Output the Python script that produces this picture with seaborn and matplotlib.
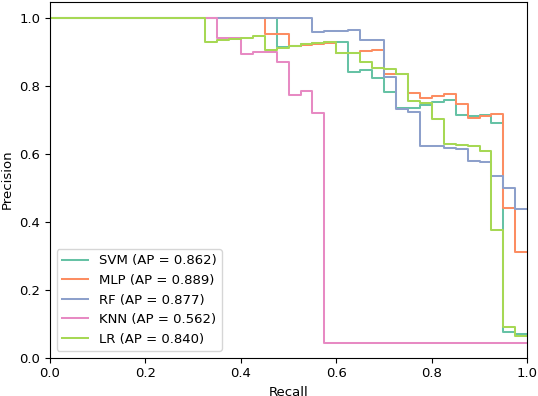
import pandas as pd
import seaborn as sns
import matplotlib
matplotlib.use("Agg")
import matplotlib.pyplot as plt

# recall grid (left edge of each step) and precision
svm_recall = [0.0, 0.475, 0.5, 0.525, 0.55, 0.575, 0.6, 0.625, 0.65, 0.675, 0.7, 0.725,
              0.75, 0.775, 0.8, 0.825, 0.85, 0.875, 0.9, 0.925, 0.95, 0.975, 1.0]
svm_precision = [1.0, 0.915, 0.918, 0.922, 0.925, 0.928, 0.928, 0.842, 0.846, 0.822, 0.783, 0.736,
                 0.736, 0.743, 0.753, 0.758, 0.715, 0.712, 0.714, 0.692, 0.075, 0.068, 0.068]

mlp_recall = [0.0, 0.45, 0.5, 0.525, 0.55, 0.575, 0.6, 0.625, 0.65, 0.675, 0.7, 0.725,
              0.75, 0.775, 0.8, 0.825, 0.85, 0.875, 0.9, 0.925, 0.95, 0.975, 1.0]
mlp_precision = [1.0, 0.952, 0.917, 0.920, 0.922, 0.925, 0.897, 0.898, 0.903, 0.906, 0.835, 0.835,
                 0.779, 0.765, 0.770, 0.775, 0.746, 0.705, 0.712, 0.717, 0.439, 0.311, 0.311]

rf_recall = [0.0, 0.55, 0.575, 0.6, 0.625, 0.65, 0.675, 0.7, 0.725, 0.75, 0.775, 0.8,
             0.825, 0.85, 0.875, 0.9, 0.925, 0.95, 0.975, 1.0]
rf_precision = [1.0, 0.958, 0.960, 0.962, 0.965, 0.935, 0.935, 0.827, 0.733, 0.724, 0.622, 0.622,
                0.617, 0.613, 0.579, 0.576, 0.535, 0.498, 0.436, 0.436]

knn_recall = [0.0, 0.35, 0.375, 0.4, 0.425, 0.45, 0.475, 0.5, 0.525, 0.55, 0.575, 1.0]
knn_precision = [1.0, 0.940, 0.940, 0.894, 0.901, 0.901, 0.871, 0.773, 0.785, 0.719, 0.043, 0.043]

lr_recall = [0.0, 0.325, 0.35, 0.375, 0.4, 0.425, 0.45, 0.475, 0.5, 0.525, 0.55, 0.575,
             0.6, 0.625, 0.65, 0.675, 0.7, 0.725, 0.75, 0.775, 0.8, 0.825, 0.85, 0.875,
             0.9, 0.925, 0.95, 0.975, 1.0]
lr_precision = [1.0, 0.930, 0.935, 0.938, 0.941, 0.947, 0.906, 0.911, 0.917, 0.922, 0.925, 0.928,
                0.896, 0.898, 0.871, 0.853, 0.851, 0.835, 0.756, 0.748, 0.702, 0.630, 0.625, 0.622,
                0.609, 0.375, 0.089, 0.065, 0.065]

labels = ["SVM (AP = 0.862)", "MLP (AP = 0.889)", "RF (AP = 0.877)",
          "KNN (AP = 0.562)", "LR (AP = 0.840)"]

curves = [(svm_recall, svm_precision), (mlp_recall, mlp_precision), (rf_recall, rf_precision),
          (knn_recall, knn_precision), (lr_recall, lr_precision)]

frames = []
for lab, (r, p) in zip(labels, curves):
    frames.append(pd.DataFrame({"Recall": r, "Precision": p, "model": lab}))
df = pd.concat(frames, ignore_index=True)

plt.rcParams["font.size"] = 9.5

fig, ax = plt.subplots(figsize=(5.38, 3.96), dpi=100)
fig.subplots_adjust(left=0.093, right=0.98, top=0.996, bottom=0.097)

sns.lineplot(data=df, x="Recall", y="Precision", hue="model", hue_order=labels,
             palette="Set2", estimator=None, sort=False, drawstyle="steps-post",
             linewidth=1.45, ax=ax)

ax.set_xlim(0, 1)
ax.set_ylim(0, 1.048)
ax.set_xlabel("Recall")
ax.set_ylabel("Precision")
sns.move_legend(ax, "lower left", title=None)

plt.savefig("out.png", dpi=100)
